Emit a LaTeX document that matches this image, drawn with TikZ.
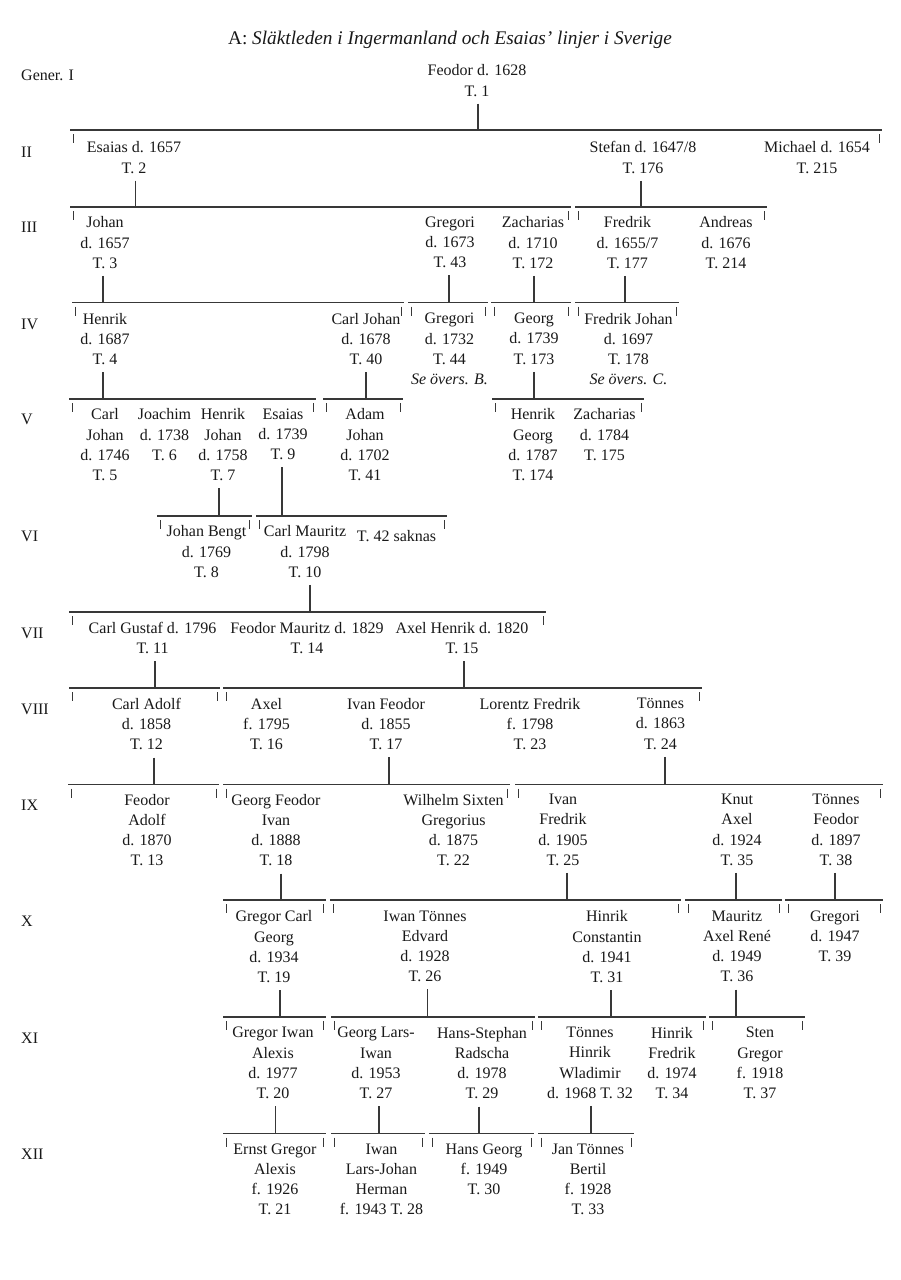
\documentclass[tikz,border=0pt]{standalone}
\usepackage{fontspec}
\setmainfont{Liberation Serif}
\newcommand\tallstrut{\rule[-6pt]{0pt}{22pt}}
\begin{document}
\tikzset{
  txt/.style={font=\fontsize{16}{20.2}\selectfont, text=black!90},
  person/.style={txt, align=center, inner sep=0pt, anchor=north, yshift=8.5pt,
    execute at begin node=\tallstrut, execute at end node=\tallstrut},
  genlabel/.style={txt, inner sep=0pt, anchor=north west, yshift=8.5pt,
    execute at begin node=\tallstrut},
  sibline/.style={draw=black!78, line width=1.3pt},
  tickmark/.style={draw=black!78, line width=0.9pt},
  link/.style={draw=black!78, line width=1.1pt},
}
\newcommand\sibbar[4]{% name, y, x1, x2
  \coordinate (#1) at (#3,-#2);
  \coordinate (#1e) at (#4,-#2);
  \draw[sibline] (#1) -- (#1e);
  \draw[tickmark] ([xshift=3pt,yshift=-4pt]#1) -- ++(0,-9);
  \draw[tickmark] ([xshift=-3pt,yshift=-4pt]#1e) -- ++(0,-9);
}
\newcommand\conn[3]{% parent node, bar, dx
  \draw[link] ([xshift=#3pt,yshift=-1.5pt]#1.south) -- ([xshift=#3pt]#1.south |- #2);
}
\begin{tikzpicture}[x=1pt,y=1pt]
\fill[white] (0,0) rectangle (900,-1280);
\useasboundingbox (0,0) rectangle (900,-1280);

% title
\node[font=\fontsize{19.3}{22}\selectfont, inner sep=0pt, text=black!90] (title) at (450,-40)
  {A: \textit{Släktleden i Ingermanland och Esaias' linjer i Sverige}};

% generation labels
\node[genlabel] (g1) at (21,-73) {Gener. I};
\node[genlabel] (g2) at (21,-150) {II};
\node[genlabel] (g3) at (21,-225) {III};
\node[genlabel] (g4) at (21,-321.5) {IV};
\node[genlabel] (g5) at (21,-417) {V};
\node[genlabel] (g6) at (21,-534) {VI};
\node[genlabel] (g7) at (21,-630.5) {VII};
\node[genlabel] (g8) at (21,-706.5) {VIII};
\node[genlabel] (g9) at (21,-802.5) {IX};
\node[genlabel] (g10) at (21,-919) {X};
\node[genlabel] (g11) at (21,-1035.5) {XI};
\node[genlabel] (g12) at (21,-1152) {XII};

% Gen I
\node[person] (feodor) at (477,-73) {Feodor d. 1628\\T. 1};
% Gen II
\node[person] (esaias) at (134,-150) {Esaias d. 1657\\T. 2};
\node[person] (stefan) at (643,-150) {Stefan d. 1647/8\\T. 176};
\node[person] (michael) at (817,-150) {Michael d. 1654\\T. 215};
% Gen III
\node[person] (johan3) at (105,-225) {Johan\\d. 1657\\T. 3};
\node[person] (gregori3) at (450,-225) {Gregori\\d. 1673\\T. 43};
\node[person] (zacharias3) at (533,-225) {Zacharias\\d. 1710\\T. 172};
\node[person] (fredrik3) at (627.5,-225) {Fredrik\\d. 1655/7\\T. 177};
\node[person] (andreas) at (726,-225) {Andreas\\d. 1676\\T. 214};
% Gen IV
\node[person] (henrik4) at (105,-321.5) {Henrik\\d. 1687\\T. 4};
\node[person] (carljohan4) at (366,-321.5) {Carl Johan\\d. 1678\\T. 40};
\node[person] (gregori4) at (449.5,-321.5) {Gregori\\d. 1732\\T. 44\\\textit{Se övers. B.}};
\node[person] (georg4) at (534,-321.5) {Georg\\d. 1739\\T. 173};
\node[person] (fredrikjohan) at (628.5,-321.5) {Fredrik Johan\\d. 1697\\T. 178\\\textit{Se övers. C.}};
% Gen V
\node[person] (carljohan5) at (105,-417) {Carl\\Johan\\d. 1746\\T. 5};
\node[person] (joachim) at (164.5,-417) {Joachim\\d. 1738\\T. 6};
\node[person] (henrikjohan) at (223,-417) {Henrik\\Johan\\d. 1758\\T. 7};
\node[person] (esaias5) at (283,-417) {Esaias\\d. 1739\\T. 9};
\node[person] (adam) at (365,-417) {Adam\\Johan\\d. 1702\\T. 41};
\node[person] (henrikgeorg) at (533,-417) {Henrik\\Georg\\d. 1787\\T. 174};
\node[person] (zacharias5) at (604.5,-417) {Zacharias\\d. 1784\\T. 175};
% Gen VI
\node[person] (johanbengt) at (206.5,-534) {Johan Bengt\\d. 1769\\T. 8};
\node[person] (carlmauritz) at (305,-534) {Carl Mauritz\\d. 1798\\T. 10};
\node[person] (saknas) at (396.6,-534) {T. 42 saknas};
% Gen VII
\node[person] (carlgustaf) at (152.5,-630.5) {Carl Gustaf d. 1796\\T. 11};
\node[person] (feodormauritz) at (307,-630.5) {Feodor Mauritz d. 1829\\T. 14};
\node[person] (axelhenrik) at (462,-630.5) {Axel Henrik d. 1820\\T. 15};
% Gen VIII
\node[person] (carladolf) at (146.5,-706.5) {Carl Adolf\\d. 1858\\T. 12};
\node[person] (axel8) at (266.5,-706.5) {Axel\\f. 1795\\T. 16};
\node[person] (ivanfeodor) at (386,-706.5) {Ivan Feodor\\d. 1855\\T. 17};
\node[person] (lorentz) at (530,-706.5) {Lorentz Fredrik\\f. 1798\\T. 23};
\node[person] (tonnes8) at (660.5,-706.5) {Tönnes\\d. 1863\\T. 24};
% Gen IX
\node[person] (feodoradolf) at (147,-802.5) {Feodor\\Adolf\\d. 1870\\T. 13};
\node[person] (georgfeodor) at (276,-802.5) {Georg Feodor\\Ivan\\d. 1888\\T. 18};
\node[person] (wilhelm) at (453.5,-802.5) {Wilhelm Sixten\\Gregorius\\d. 1875\\T. 22};
\node[person] (ivanfredrik) at (563,-802.5) {Ivan\\Fredrik\\d. 1905\\T. 25};
\node[person] (knut) at (737,-802.5) {Knut\\Axel\\d. 1924\\T. 35};
\node[person] (tonnesfeodor) at (836,-802.5) {Tönnes\\Feodor\\d. 1897\\T. 38};
% Gen X
\node[person] (gregorcarl) at (274,-919) {Gregor Carl\\Georg\\d. 1934\\T. 19};
\node[person] (iwantonnes) at (425,-919) {Iwan Tönnes\\Edvard\\d. 1928\\T. 26};
\node[person] (hinrikconst) at (607,-919) {Hinrik\\Constantin\\d. 1941\\T. 31};
\node[person] (mauritz) at (737,-919) {Mauritz\\Axel René\\d. 1949\\T. 36};
\node[person] (gregori10) at (835,-919) {Gregori\\d. 1947\\T. 39};
% Gen XI
\node[person] (gregoriwan) at (273,-1035.5) {Gregor Iwan\\Alexis\\d. 1977\\T. 20};
\node[person] (georglars) at (376,-1035.5) {Georg Lars-\\Iwan\\d. 1953\\T. 27};
\node[person] (hansstephan) at (482,-1035.5) {Hans-Stephan\\Radscha\\d. 1978\\T. 29};
\node[person] (tonneshinrik) at (590,-1035.5) {Tönnes\\Hinrik\\Wladimir\\d. 1968 T. 32};
\node[person] (hinrikfredrik) at (672,-1035.5) {Hinrik\\Fredrik\\d. 1974\\T. 34};
\node[person] (sten) at (760,-1035.5) {Sten\\Gregor\\f. 1918\\T. 37};
% Gen XII
\node[person] (ernst) at (275,-1152) {Ernst Gregor\\Alexis\\f. 1926\\T. 21};
\node[person] (iwanlars) at (381.5,-1152) {Iwan\\Lars-Johan\\Herman\\f. 1943 T. 28};
\node[person] (hansgeorg) at (484,-1152) {Hans Georg\\f. 1949\\T. 30};
\node[person] (jantonnes) at (588,-1152) {Jan Tönnes\\Bertil\\f. 1928\\T. 33};

% sibling bars
\sibbar{b1}{130}{70}{882}
\sibbar{b2a}{207}{70}{571}
\sibbar{b2b}{207}{575}{767}
\sibbar{b3a}{302.5}{72}{404}
\sibbar{b3b}{302.5}{408}{488}
\sibbar{b3c}{302.5}{491}{571}
\sibbar{b3d}{302.5}{575}{679}
\sibbar{b4a}{399}{69}{316}
\sibbar{b4b}{399}{323}{403}
\sibbar{b4c}{399}{492}{644}
\sibbar{b5a}{516}{157}{252}
\sibbar{b5b}{516}{256}{447}
\sibbar{b6}{612}{69}{546}
\sibbar{b7a}{688}{69}{220}
\sibbar{b7b}{688}{223}{702}
\sibbar{b8a}{784.5}{68}{219}
\sibbar{b8b}{784.5}{223}{510}
\sibbar{b8c}{784.5}{515}{883}
\sibbar{b9a}{900}{223}{326}
\sibbar{b9b}{900}{330}{681}
\sibbar{b9c}{900}{685}{782}
\sibbar{b9d}{900}{785}{883}
\sibbar{b10a}{1017}{223}{326}
\sibbar{b10b}{1017}{331}{535}
\sibbar{b10c}{1017}{538}{706}
\sibbar{b10d}{1017}{709}{805}
\sibbar{b11a}{1133.5}{223}{326}
\sibbar{b11b}{1133.5}{331}{425}
\sibbar{b11c}{1133.5}{429}{534}
\sibbar{b11d}{1133.5}{538}{634}

% parent connectors
\conn{feodor}{b1}{1}
\conn{esaias}{b2a}{1.5}
\conn{stefan}{b2b}{-2}
\conn{johan3}{b3a}{-2}
\conn{gregori3}{b3b}{-1}
\conn{zacharias3}{b3c}{1}
\conn{fredrik3}{b3d}{-2.5}
\conn{henrik4}{b4a}{-2}
\conn{carljohan4}{b4b}{0}
\conn{georg4}{b4c}{0}
\conn{henrikjohan}{b5a}{-4}
\conn{esaias5}{b5b}{-1}
\conn{carlmauritz}{b6}{5}
\conn{carlgustaf}{b7a}{2.5}
\conn{axelhenrik}{b7b}{2}
\conn{carladolf}{b8a}{7.5}
\conn{ivanfeodor}{b8b}{3}
\conn{tonnes8}{b8c}{4.5}
\conn{georgfeodor}{b9a}{5}
\conn{ivanfredrik}{b9b}{4}
\conn{knut}{b9c}{-1}
\conn{tonnesfeodor}{b9d}{-1}
\conn{gregorcarl}{b10a}{6}
\conn{iwantonnes}{b10b}{2.7}
\conn{hinrikconst}{b10c}{4}
\conn{mauritz}{b10d}{-1}
\conn{gregoriwan}{b11a}{2.5}
\conn{georglars}{b11b}{3}
\conn{hansstephan}{b11c}{-3}
\conn{tonneshinrik}{b11d}{1}
\end{tikzpicture}
\end{document}
